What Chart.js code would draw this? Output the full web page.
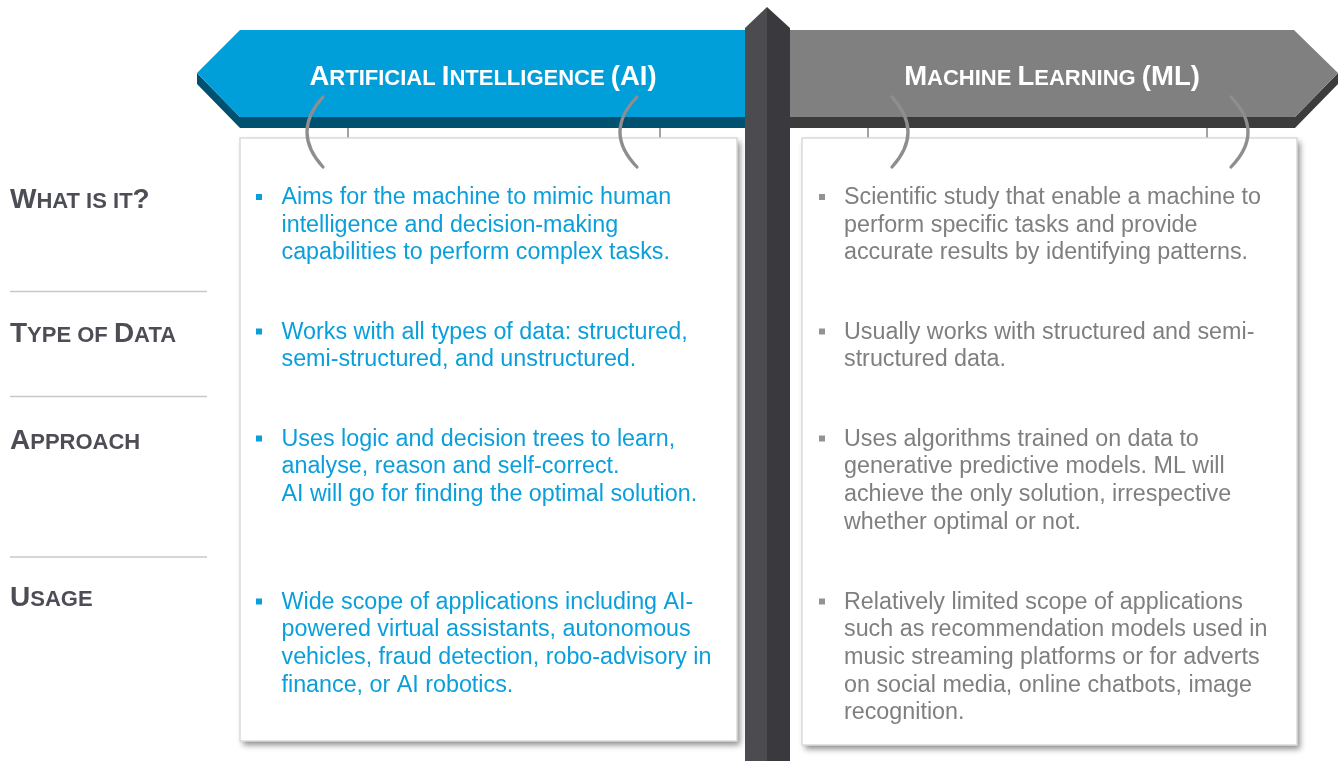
<!DOCTYPE html>
<html>
<head>
<meta charset="utf-8">
<script src="https://cdn.jsdelivr.net/npm/chart.js@4/dist/chart.umd.min.js"></script>
<style>
  html, body { margin: 0; padding: 0; background: #fff; }
  #board { display: block; }
</style>
</head>
<body>
<canvas id="board" width="1338" height="761"></canvas>
<script>
// content of the comparison
const headers = ['Artificial Intelligence (AI)', 'Machine Learning (ML)'];
const rowLabels = ['What is it?', 'Type of Data', 'Approach', 'Usage'];
const aiPoints = [
    ['Aims for the machine to mimic human', 'intelligence and decision-making', 'capabilities to perform complex tasks.'],
    ['Works with all types of data: structured,', 'semi-structured, and unstructured.'],
    ['Uses logic and decision trees to learn,', 'analyse, reason and self-correct.', 'AI will go for finding the optimal solution.'],
    ['Wide scope of applications including AI-', 'powered virtual assistants, autonomous', 'vehicles, fraud detection, robo-advisory in', 'finance, or AI robotics.']
];
const mlPoints = [
    ['Scientific study that enable a machine to', 'perform specific tasks and provide', 'accurate results by identifying patterns.'],
    ['Usually works with structured and semi-', 'structured data.'],
    ['Uses algorithms trained on data to', 'generative predictive models. ML will', 'achieve the only solution, irrespective', 'whether optimal or not.'],
    ['Relatively limited scope of applications', 'such as recommendation models used in', 'music streaming platforms or for adverts', 'on social media, online chatbots, image', 'recognition.']
];

// layout (in board units, mapped through the chart scales)
const rowTextY = [204, 338.5, 445.5, 608.5];
const rowLabelY = [208, 342, 449, 606];
const dividerY = [291.5, 396.5, 557];
const lineGap = 27.7;
const FONT = '"Liberation Sans", Arial, sans-serif';

function smallCaps(ctx, text, x, y, big, small, align) {
    const runs = [];
    for (const ch of text) {
        const size = (ch !== ch.toUpperCase() || ch === ' ') ? small : big;
        const last = runs[runs.length - 1];
        if (last && last.size === size) last.t += ch.toUpperCase();
        else runs.push({ t: ch.toUpperCase(), size: size });
    }
    let total = 0;
    runs.forEach(r => {
        ctx.font = 'bold ' + r.size + 'px ' + FONT;
        r.w = ctx.measureText(r.t).width;
        total += r.w;
    });
    let cx = align === 'center' ? x - total / 2 : x;
    ctx.textAlign = 'left';
    ctx.textBaseline = 'alphabetic';
    runs.forEach(r => {
        ctx.font = 'bold ' + r.size + 'px ' + FONT;
        ctx.fillText(r.t, cx, y);
        cx += r.w;
    });
}

const signpost = {
    id: 'signpost',
    afterDraw(chart) {
        const ctx = chart.ctx;
        const X = v => chart.scales.x.getPixelForValue(v);
        const Y = v => chart.scales.y.getPixelForValue(v);
        const poly = (pts, color) => {
            ctx.beginPath();
            pts.forEach((p, i) => i ? ctx.lineTo(X(p[0]), Y(p[1])) : ctx.moveTo(X(p[0]), Y(p[1])));
            ctx.closePath();
            ctx.fillStyle = color;
            ctx.fill();
        };
        ctx.save();

        // AI sign (blue, points left)
        poly([[197, 84], [240, 128], [745, 128], [745, 117], [240, 117], [197, 73]], '#00506f');
        poly([[240, 30], [745, 30], [745, 117], [240, 117], [197, 73]], '#009fda');
        // ML sign (grey, points right)
        poly([[790, 117], [1295, 117], [1338, 73], [1338, 84], [1295, 128], [790, 128]], '#3c3c3c');
        poly([[790, 30], [1294, 30], [1338, 73], [1295, 117], [790, 117]], '#808080');

        ctx.fillStyle = '#fff';
        smallCaps(ctx, headers[0], X(483), Y(84.5), 27.5, 22, 'center');
        smallCaps(ctx, headers[1], X(1052), Y(84.5), 27.5, 22, 'center');

        // little hangers between sign and boards
        ctx.strokeStyle = '#a3a3a3';
        ctx.lineWidth = 2;
        [348, 660, 868, 1207].forEach(h => {
            ctx.beginPath();
            ctx.moveTo(X(h), Y(128));
            ctx.lineTo(X(h), Y(138));
            ctx.stroke();
        });

        // boards
        const board = (x0, y0, x1, y1) => {
            ctx.save();
            ctx.shadowColor = 'rgba(0,0,0,0.45)';
            ctx.shadowBlur = 6;
            ctx.shadowOffsetX = 3;
            ctx.shadowOffsetY = 4;
            ctx.fillStyle = '#fff';
            ctx.fillRect(X(x0), Y(y0), X(x1) - X(x0), Y(y1) - Y(y0));
            ctx.restore();
            ctx.strokeStyle = '#dadada';
            ctx.lineWidth = 1.5;
            ctx.strokeRect(X(x0), Y(y0), X(x1) - X(x0), Y(y1) - Y(y0));
        };
        board(240, 138, 737, 741);
        board(802, 138, 1297, 745);

        // pole
        poly([[745, 28], [767, 7], [767, 761], [745, 761]], '#4b4b50');
        poly([[767, 7], [790, 28], [790, 761], [767, 761]], '#3a3a3e');

        // brackets
        ctx.strokeStyle = '#8e8e8e';
        ctx.lineWidth = 3.2;
        ctx.lineCap = 'round';
        const bracket = (xt, xc) => {
            ctx.beginPath();
            ctx.moveTo(X(xt), Y(97));
            ctx.quadraticCurveTo(X(xc), Y(132), X(xt), Y(167));
            ctx.stroke();
        };
        bracket(323, 291);
        bracket(637, 603);
        bracket(892, 924);
        bracket(1231, 1265);

        // row labels and dividers
        ctx.fillStyle = '#4d4d55';
        rowLabels.forEach((lab, i) => smallCaps(ctx, lab, X(10), Y(rowLabelY[i]), 28, 22, 'left'));
        ctx.strokeStyle = '#c8c8c8';
        ctx.lineWidth = 1.5;
        ctx.lineCap = 'butt';
        dividerY.forEach(d => {
            ctx.beginPath();
            ctx.moveTo(X(10), Y(d));
            ctx.lineTo(X(207), Y(d));
            ctx.stroke();
        });

        // bullet text
        const column = (items, bx, tx, color, bulletColor) => {
            ctx.font = '23.3px ' + FONT;
            ctx.textAlign = 'left';
            ctx.textBaseline = 'alphabetic';
            items.forEach((lines, i) => {
                const y0 = rowTextY[i];
                ctx.fillStyle = bulletColor;
                ctx.fillRect(X(bx), Y(y0 - 10), 6, 6);
                ctx.fillStyle = color;
                lines.forEach((ln, j) => ctx.fillText(ln, X(tx), Y(y0 + j * lineGap)));
            });
        };
        column(aiPoints, 256, 281.5, '#0a9fdb', '#0a9fdb');
        column(mlPoints, 819, 844, '#7f7f7f', '#939393');

        ctx.restore();
    }
};

function build() {
    new Chart(document.getElementById('board'), {
        type: 'scatter',
        data: { datasets: [{ data: [] }] },
        options: {
            responsive: false,
            animation: false,
            layout: { padding: 0 },
            plugins: { legend: { display: false }, tooltip: { enabled: false } },
            scales: {
                x: { type: 'linear', min: 0, max: 1338, display: false },
                y: { type: 'linear', min: 0, max: 761, reverse: true, display: false }
            }
        },
        plugins: [signpost]
    });
}

Promise.all([
    document.fonts.load('23px "Liberation Sans"'),
    document.fonts.load('bold 27px "Liberation Sans"')
]).then(build, build);
</script>
</body>
</html>
